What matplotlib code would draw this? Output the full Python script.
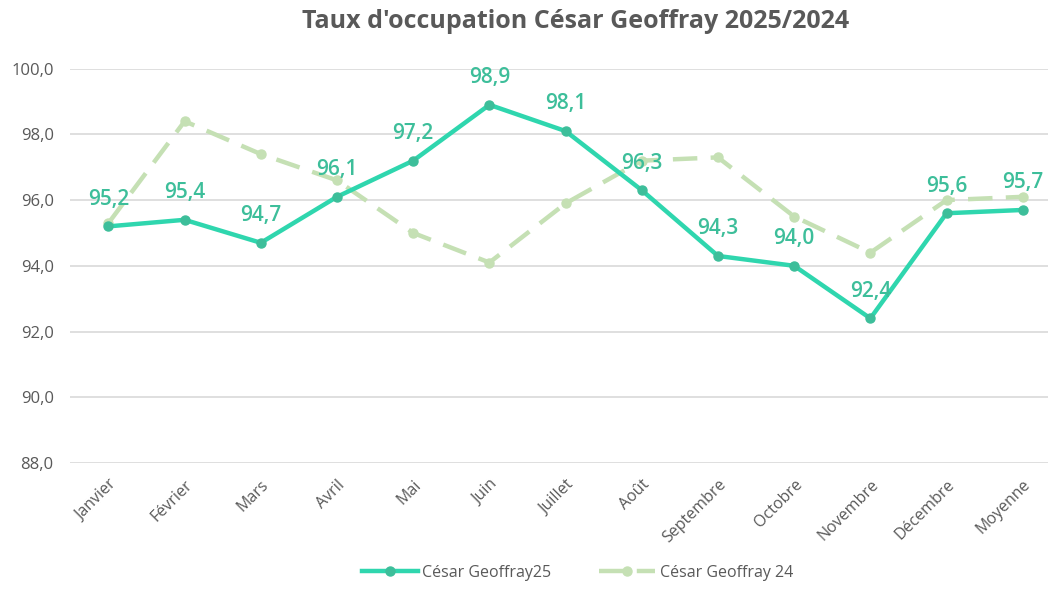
import matplotlib
matplotlib.use("Agg")
from matplotlib import pyplot as plt

plt.rcParams['font.family'] = ['Open Sans', 'DejaVu Sans']

mois = ['Janvier', 'Février', 'Mars', 'Avril', 'Mai', 'Juin', 'Juillet', 'Août',
        'Septembre', 'Octobre', 'Novembre', 'Décembre', 'Moyenne']
taux_2025 = [95.2, 95.4, 94.7, 96.1, 97.2, 98.9, 98.1, 96.3, 94.3, 94.0, 92.4, 95.6, 95.7]
taux_2024 = [95.3, 98.4, 97.4, 96.6, 95.0, 94.1, 95.9, 97.2, 97.3, 95.5, 94.4, 96.0, 96.1]
yticks = [88, 90, 92, 94, 96, 98, 100]

gris = '#595959'
fig = plt.figure(figsize=(10.5, 5.92), dpi=100)
ax = fig.add_axes([0.067, 0.218, 0.931, 0.666])

x = list(range(len(mois)))
ax.plot(x, taux_2024, color='#C5E0B4', linewidth=3.2, linestyle=(0, (5.5, 3)),
        marker='o', markersize=6.5, label='César Geoffray 24', zorder=2)
ax.plot(x, taux_2025, color='#2FD6AE', linewidth=3.2, marker='o', markersize=6.5,
        markerfacecolor='#3DBE9A', markeredgecolor='#3DBE9A',
        label='César Geoffray25', zorder=3)

for xi, v in zip(x, taux_2025):
    ax.annotate(f'{v:.1f}'.replace('.', ','), (xi, v), xytext=(0, 12),
                textcoords='offset points', ha='center', va='bottom',
                fontsize=15, fontweight='semibold', color='#3DBE9A', zorder=4)

ax.set_xlim(-0.5, 12.33)
ax.set_ylim(88, 100)
ax.set_yticks(yticks)
ax.set_yticklabels([f'{t:.1f}'.replace('.', ',') for t in yticks], color=gris, fontsize=12)
ax.set_xticks(x)
ax.set_xticklabels(mois, rotation=45, ha='right', rotation_mode='anchor',
                   color=gris, fontsize=11.5)
ax.tick_params(axis='y', length=0, pad=12)
ax.tick_params(axis='x', length=0, pad=10)
ax.grid(axis='y', color='#D9D9D9', linewidth=1.2)
ax.set_axisbelow(True)
for s in ax.spines.values():
    s.set_visible(False)

handles, labels = ax.get_legend_handles_labels()
fig.legend(handles[::-1], labels[::-1], loc='lower center', bbox_to_anchor=(0.55, -0.005),
           ncol=2, frameon=False, fontsize=11.5, labelcolor=gris, handlelength=3.5,
           handletextpad=0.3, columnspacing=3)

fig.suptitle("Taux d'occupation César Geoffray 2025/2024", x=0.548, y=0.985,
             fontsize=18, fontweight='bold', color=gris)

fig.savefig('out.png', dpi=100)
